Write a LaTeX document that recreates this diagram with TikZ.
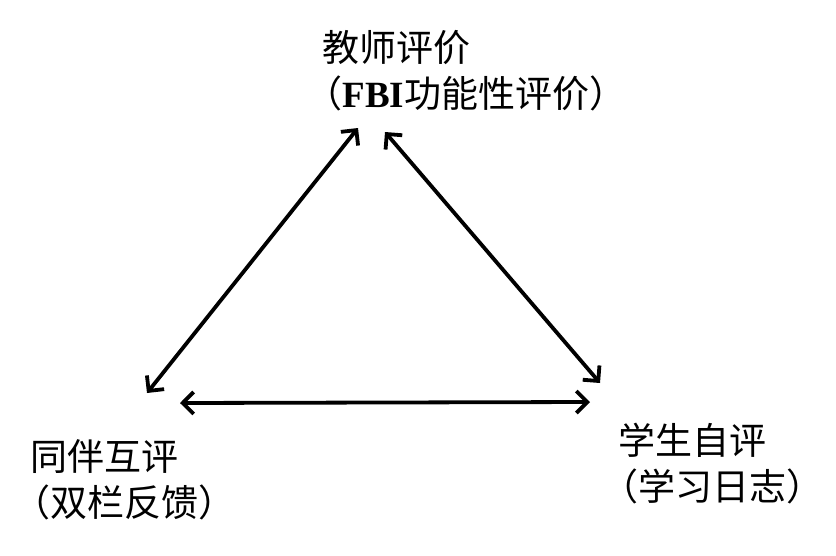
\documentclass[tikz,border=0pt]{standalone}
\usepackage{fontspec}
\setmainfont{Noto Sans CJK SC}
\newfontfamily\serifb{Liberation Serif}
\usetikzlibrary{arrows.meta}
\newcommand{\lpar}{\hspace*{-0.45em}（}
\newcommand{\rpar}{）}
\begin{document}
\begin{tikzpicture}[x=1pt,y=-1pt,
  lbl/.style={anchor=west, align=left, font=\fontsize{37}{46}\selectfont, inner sep=0pt},
  biarrow/.style={{Straight Barb[length=11pt,width=22pt]}-{Straight Barb[length=11pt,width=22pt]}, line width=3.8pt}]
\useasboundingbox (0,0) rectangle (836,555);
\fill[white] (0,0) rectangle (836,555);
\node[lbl] (teacher) at (322,71) {教师评价\\\lpar{\serifb\bfseries FBI}功能性评价\rpar};
\node[lbl] (peer) at (30,480) {同伴互评\\\lpar 双栏反馈\rpar};
\node[lbl] (self) at (618,464) {学生自评\\\lpar 学习日志\rpar};
\coordinate (tl) at (358,128);
\coordinate (tr) at (385,132);
\coordinate (bl) at (147,393);
\coordinate (br) at (600,383);
\coordinate (hl) at (180,403);
\coordinate (hr) at (590,402);
\draw[biarrow] (bl) -- (tl);
\draw[biarrow] (tr) -- (br);
\draw[biarrow] (hl) -- (hr);
\end{tikzpicture}
\end{document}
